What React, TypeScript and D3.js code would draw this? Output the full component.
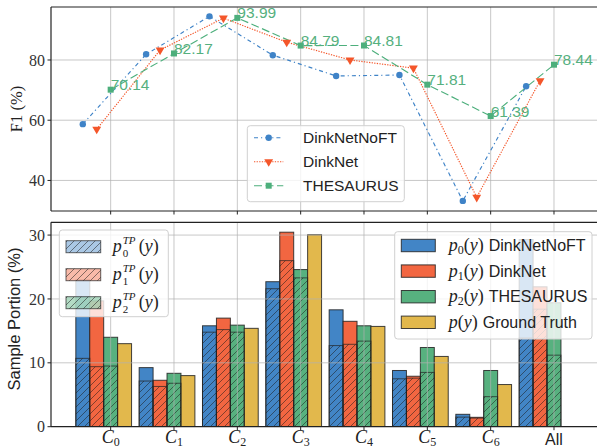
import React, { useEffect, useRef } from 'react';
import * as d3 from 'd3';

// categories (index 7 is "All")
const categories = ['0', '1', '2', '3', '4', '5', '6', 'All'];
const methods = ['DinkNetNoFT', 'DinkNet', 'THESAURUS'];

// F1 (%) per category
const f1NoFT = [58.7, 81.9, 94.5, 81.6, 74.7, 75.0, 33.2, 71.3];
const f1DinkNet = [57.0, 83.3, 93.9, 85.9, 80.0, 77.3, 34.4, 73.1];
const f1Thesaurus = [70.14, 82.17, 93.99, 84.79, 84.81, 71.81, 61.39, 78.44];

// sample portion (%) : predicted share and true-positive share
const portionNoFT = [23.0, 9.25, 15.8, 22.7, 18.3, 8.8, 1.94, 29.3];
const tpNoFT = [10.7, 7.15, 14.8, 21.6, 12.7, 7.5, 1.5, 13.9];
const portionDinkNet = [19.7, 7.27, 17.0, 30.45, 16.5, 7.9, 1.47, 21.9];
const tpDinkNet = [9.4, 6.3, 15.2, 26.0, 12.9, 7.6, 1.35, 18.4];
const portionThesaurus = [14.0, 8.36, 15.9, 24.6, 15.8, 12.4, 8.8, 19.4];
const tpThesaurus = [9.5, 6.8, 14.8, 23.3, 13.4, 8.5, 4.7, 11.2];
const groundTruth = [13.0, 8.0, 15.4, 30.05, 15.7, 11.0, 6.6];

const f1Ticks = [40, 60, 80];
const portionTicks = [0, 10, 20, 30];

const colors = ['#4285C6', '#F26641', '#57B17F', '#E2B84C'];
const lineColors = ['#3F83C7', '#F4562A', '#4DAF7C'];

const SERIF = '"Liberation Serif", "DejaVu Serif", serif';
const SANS = '"Liberation Sans", "DejaVu Sans", sans-serif';

const App = () => {
  const svgRef = useRef<SVGSVGElement>(null);

  useEffect(() => {
    if (!svgRef.current) return;
    const svg = d3.select(svgRef.current);
    svg.selectAll('*').remove();

    const left = 51;
    const right = 599.6;
    const x = d3.scaleLinear().domain([-0.942, 7.72]).range([left, right]);
    const bw = x(0.22) - x(0);
    const yTop = d3.scaleLinear().domain([29.85, 97.6]).range([211, 7]);
    const yBot = d3.scaleLinear().domain([0, 32]).range([426.7, 222.3]);

    const defs = svg.append('defs');
    const pat = defs.append('pattern')
      .attr('id', 'hatch')
      .attr('patternUnits', 'userSpaceOnUse')
      .attr('width', 7)
      .attr('height', 7);
    pat.append('path')
      .attr('d', 'M-1,1 l2,-2 M0,7 l7,-7 M6,8 l2,-2')
      .attr('stroke', '#1a1a1a')
      .attr('stroke-width', 0.8)
      .attr('stroke-opacity', 0.65);
    defs.append('clipPath').attr('id', 'clipTop')
      .append('rect').attr('x', left).attr('y', 7).attr('width', right - left).attr('height', 204);
    defs.append('clipPath').attr('id', 'clipBot')
      .append('rect').attr('x', left).attr('y', 222.3).attr('width', right - left).attr('height', 204.4);

    const idx = d3.range(categories.length);

    // ---------- top panel: F1 ----------
    const top = svg.append('g');
    const gridTop = top.append('g');
    idx.forEach(i => {
      gridTop.append('line')
        .attr('x1', x(i)).attr('x2', x(i)).attr('y1', 7).attr('y2', 211)
        .attr('stroke', '#b0b0b0').attr('stroke-opacity', 0.7).attr('stroke-width', 1);
    });
    f1Ticks.forEach(t => {
      gridTop.append('line')
        .attr('x1', left).attr('x2', right).attr('y1', yTop(t)).attr('y2', yTop(t))
        .attr('stroke', '#b0b0b0').attr('stroke-opacity', 0.7).attr('stroke-width', 1);
    });

    const series = [f1NoFT, f1DinkNet, f1Thesaurus];
    const dashes = ['4,3,1.2,3', '1.3,1.3', '8,3.5'];
    const plot = top.append('g').attr('clip-path', 'url(#clipTop)');
    series.forEach((vals, s) => {
      const off = (s - 2) * 0.22;
      const line = d3.line<number>()
        .x((_, i) => x(i + off))
        .y(d => yTop(d));
      plot.append('path')
        .attr('d', line(vals))
        .attr('fill', 'none')
        .attr('stroke', lineColors[s])
        .attr('stroke-width', 1.15)
        .attr('stroke-dasharray', dashes[s]);
    });

    const drawMarker = (g: any, s: number, cx: number, cy: number) => {
      if (s === 0) {
        g.append('circle').attr('cx', cx).attr('cy', cy).attr('r', 3.2).attr('fill', lineColors[0]);
      } else if (s === 1) {
        g.append('path')
          .attr('d', d3.symbol().type(d3.symbolTriangle).size(34)())
          .attr('transform', `translate(${cx},${cy}) rotate(180)`)
          .attr('fill', lineColors[1]);
      } else {
        g.append('rect').attr('x', cx - 3).attr('y', cy - 3).attr('width', 6).attr('height', 6)
          .attr('fill', lineColors[2]);
      }
    };

    series.forEach((vals, s) => {
      const off = (s - 2) * 0.22;
      vals.forEach((v, i) => drawMarker(plot, s, x(i + off), yTop(v)));
    });

    f1Thesaurus.forEach((v, i) => {
      top.append('text')
        .attr('x', x(i)).attr('y', yTop(v) + 0.5)
        .attr('font-family', SANS).attr('font-size', 15.5)
        .attr('fill', '#55B07E')
        .text(v.toFixed(2));
    });

    // top spines + ticks
    top.append('line').attr('x1', left).attr('x2', left).attr('y1', 7).attr('y2', 211).attr('stroke', '#222').attr('stroke-width', 1.2);
    top.append('line').attr('x1', left).attr('x2', right).attr('y1', 7).attr('y2', 7).attr('stroke', '#222').attr('stroke-width', 1.2);
    top.append('line').attr('x1', left).attr('x2', right).attr('y1', 211).attr('y2', 211).attr('stroke', '#222').attr('stroke-width', 1.2);
    idx.forEach(i => {
      top.append('line').attr('x1', x(i)).attr('x2', x(i)).attr('y1', 211).attr('y2', 214.5).attr('stroke', '#222');
    });
    f1Ticks.forEach(t => {
      top.append('line').attr('x1', left - 3.5).attr('x2', left).attr('y1', yTop(t)).attr('y2', yTop(t)).attr('stroke', '#222');
      top.append('text')
        .attr('x', left - 6).attr('y', yTop(t)).attr('dy', '0.35em')
        .attr('text-anchor', 'end')
        .attr('font-family', SERIF).attr('font-size', 16).attr('fill', '#333')
        .text(t);
    });
    top.append('text')
      .attr('transform', 'translate(22,109) rotate(-90)')
      .attr('text-anchor', 'middle')
      .attr('font-family', SERIF).attr('font-size', 16.5).attr('fill', '#222')
      .text('F1 (%)');

    // top legend
    const lgT = top.append('g');
    lgT.append('rect').attr('x', 247.3).attr('y', 125.7).attr('width', 157).attr('height', 76)
      .attr('rx', 3).attr('fill', 'white').attr('fill-opacity', 0.8).attr('stroke', '#d0d0d0');
    methods.forEach((m, s) => {
      const cy = 137.7 + s * 24;
      lgT.append('line').attr('x1', 254).attr('x2', 283.3).attr('y1', cy).attr('y2', cy)
        .attr('stroke', lineColors[s]).attr('stroke-width', 1.15).attr('stroke-dasharray', dashes[s]);
      drawMarker(lgT, s, 268.7, cy);
      lgT.append('text').attr('x', 303).attr('y', cy).attr('dy', '0.36em')
        .attr('font-family', SANS).attr('font-size', 15.5).attr('fill', '#222')
        .text(m);
    });

    // ---------- bottom panel: sample portion ----------
    const bot = svg.append('g');
    const bars = bot.append('g').attr('clip-path', 'url(#clipBot)');
    const totals = [portionNoFT, portionDinkNet, portionThesaurus];
    const tps = [tpNoFT, tpDinkNet, tpThesaurus];

    const drawBar = (i: number, s: number, v: number) => {
      const cx = x(i + (s - 2) * 0.22);
      bars.append('rect')
        .attr('x', cx - bw / 2).attr('y', yBot(v))
        .attr('width', bw).attr('height', yBot(0) - yBot(v))
        .attr('fill', colors[s]).attr('stroke', '#222').attr('stroke-width', 1).attr('stroke-opacity', 0.85);
    };
    idx.forEach(i => {
      totals.forEach((arr, s) => drawBar(i, s, arr[i]));
      if (i < groundTruth.length) drawBar(i, 3, groundTruth[i]);
      tps.forEach((arr, s) => {
        const cx = x(i + (s - 2) * 0.22);
        const v = arr[i];
        bars.append('rect')
          .attr('x', cx - bw / 2).attr('y', yBot(v))
          .attr('width', bw).attr('height', yBot(0) - yBot(v))
          .attr('fill', 'url(#hatch)').attr('stroke', '#222').attr('stroke-width', 1).attr('stroke-opacity', 0.7);
      });
    });

    idx.forEach(i => {
      bot.append('line')
        .attr('x1', x(i)).attr('x2', x(i)).attr('y1', 222.3).attr('y2', 426.7)
        .attr('stroke', '#b0b0b0').attr('stroke-opacity', 0.7).attr('stroke-width', 1);
    });
    portionTicks.slice(1).forEach(t => {
      bot.append('line')
        .attr('x1', left).attr('x2', right).attr('y1', yBot(t)).attr('y2', yBot(t))
        .attr('stroke', '#b0b0b0').attr('stroke-opacity', 0.7).attr('stroke-width', 1);
    });

    bot.append('line').attr('x1', left).attr('x2', left).attr('y1', 222.3).attr('y2', 426.7).attr('stroke', '#222').attr('stroke-width', 1.2);
    bot.append('line').attr('x1', left).attr('x2', right).attr('y1', 222.3).attr('y2', 222.3).attr('stroke', '#222').attr('stroke-width', 1.2);
    bot.append('line').attr('x1', left).attr('x2', right).attr('y1', 426.7).attr('y2', 426.7).attr('stroke', '#222').attr('stroke-width', 1.2);
    portionTicks.forEach(t => {
      bot.append('line').attr('x1', left - 3.5).attr('x2', left).attr('y1', yBot(t)).attr('y2', yBot(t)).attr('stroke', '#222');
      bot.append('text')
        .attr('x', left - 6).attr('y', yBot(t)).attr('dy', '0.35em')
        .attr('text-anchor', 'end')
        .attr('font-family', SERIF).attr('font-size', 16).attr('fill', '#333')
        .text(t);
    });
    idx.forEach(i => {
      bot.append('line').attr('x1', x(i)).attr('x2', x(i)).attr('y1', 426.7).attr('y2', 430.2).attr('stroke', '#222');
      if (categories[i] === 'All') {
        bot.append('text').attr('x', x(i)).attr('y', 445)
          .attr('text-anchor', 'middle')
          .attr('font-family', SANS).attr('font-size', 16).attr('fill', '#222')
          .text('All');
      } else {
        const t = bot.append('text').attr('x', x(i)).attr('y', 443)
          .attr('text-anchor', 'middle')
          .attr('font-family', SERIF).attr('fill', '#222');
        t.append('tspan').attr('font-style', 'italic').attr('font-size', 18).text('C');
        t.append('tspan').attr('font-size', 12).attr('dy', 3).text(categories[i]);
      }
    });
    bot.append('text')
      .attr('transform', 'translate(20,319) rotate(-90)')
      .attr('text-anchor', 'middle')
      .attr('font-family', SANS).attr('font-size', 16.5).attr('fill', '#222')
      .text('Sample Portion (%)');

    // left legend: true-positive portions
    const lgL = bot.append('g');
    lgL.append('rect').attr('x', 59.3).attr('y', 230).attr('width', 109).attr('height', 86.7)
      .attr('rx', 3).attr('fill', 'white').attr('fill-opacity', 0.8).attr('stroke', '#d0d0d0');
    [0, 1, 2].forEach(s => {
      const cy = 246.7 + s * 28;
      lgL.append('rect').attr('x', 66).attr('y', cy - 6).attr('width', 34.7).attr('height', 12)
        .attr('fill', colors[s]).attr('fill-opacity', 0.45);
      lgL.append('rect').attr('x', 66).attr('y', cy - 6).attr('width', 34.7).attr('height', 12)
        .attr('fill', 'url(#hatch)').attr('stroke', '#222').attr('stroke-opacity', 0.7);
      const tx = 112.7;
      const t = lgL.append('text').attr('x', tx).attr('y', cy + 5).attr('font-family', SERIF)
        .attr('font-size', 18).attr('fill', '#222');
      t.append('tspan').attr('font-style', 'italic').text('p');
      t.append('tspan').attr('x', tx + 10).attr('dy', -8).attr('font-size', 11).attr('font-style', 'italic').text('TP');
      t.append('tspan').attr('x', tx + 10).attr('dy', 13).attr('font-size', 11).text(String(s));
      t.append('tspan').attr('x', tx + 26).attr('dy', -5).text('(');
      t.append('tspan').attr('font-style', 'italic').text('y');
      t.append('tspan').text(')');
    });

    // right legend: predicted portions
    const lgR = bot.append('g');
    lgR.append('rect').attr('x', 394.7).attr('y', 231.7).attr('width', 197.3).attr('height', 107.3)
      .attr('rx', 3).attr('fill', 'white').attr('fill-opacity', 0.8).attr('stroke', '#d0d0d0');
    const rLabels = [...methods, 'Ground Truth'];
    rLabels.forEach((lab, s) => {
      const cy = 245.5 + s * 25.6;
      lgR.append('rect').attr('x', 401.3).attr('y', cy - 6.2).attr('width', 34).attr('height', 12.4)
        .attr('fill', colors[s]).attr('stroke', '#222').attr('stroke-opacity', 0.85);
      const t = lgR.append('text').attr('x', 448.7).attr('y', cy + 5.5).attr('font-family', SERIF)
        .attr('font-size', 18).attr('fill', '#222');
      t.append('tspan').attr('font-style', 'italic').text('p');
      if (s < 3) t.append('tspan').attr('font-size', 12).attr('dy', 3).text(String(s));
      t.append('tspan').attr('dy', s < 3 ? -3 : 0).text('(');
      t.append('tspan').attr('font-style', 'italic').text('y');
      t.append('tspan').text(')');
      t.append('tspan').attr('font-family', SANS).attr('font-size', 16).attr('dx', 5).text(lab);
    });
  }, []);

  return (
    <svg
      ref={svgRef}
      width={597}
      height={448}
      style={{ position: 'absolute', left: 0, top: 0, background: 'white' }}
    />
  );
};

export default App;
